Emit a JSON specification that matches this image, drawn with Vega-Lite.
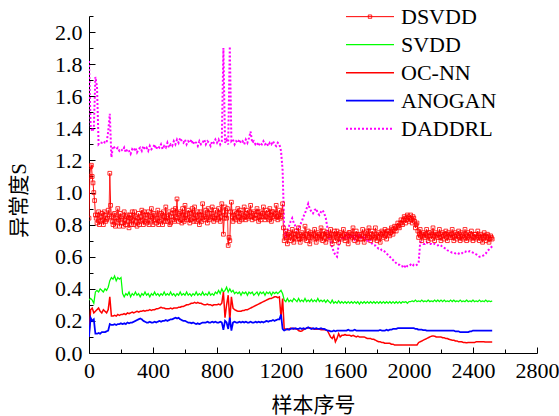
{
  "$schema": "https://vega.github.io/schema/vega-lite/v6.json",
  "width": 448,
  "height": 337,
  "autosize": {"type": "none"},
  "padding": {"left": 89, "top": 16, "right": 22, "bottom": 63},
  "background": "white",
  "config": {
    "view": {"stroke": null},
    "font": "Liberation Serif",
    "axis": {"grid": false, "domainColor": "black", "tickColor": "black", "labelColor": "black", "titleColor": "black", "labelFont": "Liberation Serif", "titleFont": "Liberation Serif, Noto Sans CJK SC", "labelFontSize": 22, "titleFontSize": 21, "titleFontWeight": "normal", "domainWidth": 1, "tickWidth": 1, "labelOverlap": false, "labelFlush": false},
    "legend": {"labelFont": "Liberation Serif"}
  },
  "data": {"values": [
{"x":0,"DSVDD":0.84,"SVDD":0.33,"OC-NN":0.10,"ANOGAN":0.10,"DADDRL":1.82},
{"x":10,"DSVDD":1.16,"SVDD":0.34,"OC-NN":0.27,"ANOGAN":0.22,"DADDRL":1.42},
{"x":20,"DSVDD":1.10,"SVDD":0.33,"OC-NN":0.28,"ANOGAN":0.20,"DADDRL":1.38},
{"x":30,"DSVDD":1.00,"SVDD":0.31,"OC-NN":0.25,"ANOGAN":0.21,"DADDRL":1.40},
{"x":40,"DSVDD":0.86,"SVDD":0.38,"OC-NN":0.26,"ANOGAN":0.12,"DADDRL":1.72},
{"x":50,"DSVDD":0.81,"SVDD":0.39,"OC-NN":0.27,"ANOGAN":0.12,"DADDRL":1.66},
{"x":60,"DSVDD":0.88,"SVDD":0.38,"OC-NN":0.28,"ANOGAN":0.125,"DADDRL":1.30},
{"x":70,"DSVDD":0.82,"SVDD":0.40,"OC-NN":0.26,"ANOGAN":0.12,"DADDRL":1.31},
{"x":80,"DSVDD":0.87,"SVDD":0.39,"OC-NN":0.25,"ANOGAN":0.13,"DADDRL":1.31},
{"x":90,"DSVDD":0.80,"SVDD":0.38,"OC-NN":0.27,"ANOGAN":0.13,"DADDRL":1.32},
{"x":100,"DSVDD":0.86,"SVDD":0.40,"OC-NN":0.26,"ANOGAN":0.13,"DADDRL":1.31},
{"x":110,"DSVDD":0.83,"SVDD":0.39,"OC-NN":0.25,"ANOGAN":0.135,"DADDRL":1.31},
{"x":120,"DSVDD":0.89,"SVDD":0.41,"OC-NN":0.27,"ANOGAN":0.14,"DADDRL":1.38},
{"x":130,"DSVDD":1.12,"SVDD":0.45,"OC-NN":0.35,"ANOGAN":0.18,"DADDRL":1.49},
{"x":140,"DSVDD":0.85,"SVDD":0.47,"OC-NN":0.23,"ANOGAN":0.175,"DADDRL":1.22},
{"x":150,"DSVDD":0.80,"SVDD":0.46,"OC-NN":0.23,"ANOGAN":0.175,"DADDRL":1.29},
{"x":160,"DSVDD":0.87,"SVDD":0.48,"OC-NN":0.235,"ANOGAN":0.18,"DADDRL":1.28},
{"x":170,"DSVDD":0.82,"SVDD":0.45,"OC-NN":0.23,"ANOGAN":0.175,"DADDRL":1.27},
{"x":180,"DSVDD":0.90,"SVDD":0.47,"OC-NN":0.24,"ANOGAN":0.18,"DADDRL":1.28},
{"x":190,"DSVDD":0.79,"SVDD":0.46,"OC-NN":0.235,"ANOGAN":0.18,"DADDRL":1.26},
{"x":200,"DSVDD":0.85,"SVDD":0.47,"OC-NN":0.24,"ANOGAN":0.185,"DADDRL":1.27},
{"x":210,"DSVDD":0.81,"SVDD":0.37,"OC-NN":0.24,"ANOGAN":0.18,"DADDRL":1.26},
{"x":220,"DSVDD":0.88,"SVDD":0.35,"OC-NN":0.245,"ANOGAN":0.185,"DADDRL":1.28},
{"x":230,"DSVDD":0.80,"SVDD":0.37,"OC-NN":0.24,"ANOGAN":0.18,"DADDRL":1.25},
{"x":240,"DSVDD":0.86,"SVDD":0.36,"OC-NN":0.25,"ANOGAN":0.19,"DADDRL":1.27},
{"x":250,"DSVDD":0.78,"SVDD":0.38,"OC-NN":0.245,"ANOGAN":0.185,"DADDRL":1.26},
{"x":260,"DSVDD":0.84,"SVDD":0.35,"OC-NN":0.25,"ANOGAN":0.19,"DADDRL":1.24},
{"x":270,"DSVDD":0.88,"SVDD":0.37,"OC-NN":0.255,"ANOGAN":0.19,"DADDRL":1.27},
{"x":280,"DSVDD":0.80,"SVDD":0.36,"OC-NN":0.25,"ANOGAN":0.195,"DADDRL":1.26},
{"x":290,"DSVDD":0.85,"SVDD":0.38,"OC-NN":0.255,"ANOGAN":0.20,"DADDRL":1.28},
{"x":300,"DSVDD":0.79,"SVDD":0.36,"OC-NN":0.26,"ANOGAN":0.205,"DADDRL":1.25},
{"x":310,"DSVDD":0.87,"SVDD":0.37,"OC-NN":0.255,"ANOGAN":0.21,"DADDRL":1.27},
{"x":320,"DSVDD":0.82,"SVDD":0.35,"OC-NN":0.26,"ANOGAN":0.215,"DADDRL":1.28},
{"x":330,"DSVDD":0.89,"SVDD":0.37,"OC-NN":0.26,"ANOGAN":0.21,"DADDRL":1.26},
{"x":340,"DSVDD":0.80,"SVDD":0.36,"OC-NN":0.265,"ANOGAN":0.20,"DADDRL":1.29},
{"x":350,"DSVDD":0.86,"SVDD":0.38,"OC-NN":0.26,"ANOGAN":0.195,"DADDRL":1.27},
{"x":360,"DSVDD":0.81,"SVDD":0.36,"OC-NN":0.265,"ANOGAN":0.19,"DADDRL":1.28},
{"x":370,"DSVDD":0.88,"SVDD":0.37,"OC-NN":0.265,"ANOGAN":0.19,"DADDRL":1.26},
{"x":380,"DSVDD":0.83,"SVDD":0.35,"OC-NN":0.27,"ANOGAN":0.195,"DADDRL":1.29},
{"x":390,"DSVDD":0.90,"SVDD":0.37,"OC-NN":0.265,"ANOGAN":0.19,"DADDRL":1.27},
{"x":400,"DSVDD":0.80,"SVDD":0.36,"OC-NN":0.27,"ANOGAN":0.19,"DADDRL":1.28},
{"x":410,"DSVDD":0.86,"SVDD":0.38,"OC-NN":0.27,"ANOGAN":0.195,"DADDRL":1.30},
{"x":420,"DSVDD":0.81,"SVDD":0.36,"OC-NN":0.275,"ANOGAN":0.19,"DADDRL":1.27},
{"x":430,"DSVDD":0.89,"SVDD":0.37,"OC-NN":0.275,"ANOGAN":0.195,"DADDRL":1.29},
{"x":440,"DSVDD":0.82,"SVDD":0.355,"OC-NN":0.28,"ANOGAN":0.20,"DADDRL":1.28},
{"x":450,"DSVDD":0.87,"SVDD":0.37,"OC-NN":0.285,"ANOGAN":0.195,"DADDRL":1.30},
{"x":460,"DSVDD":0.80,"SVDD":0.36,"OC-NN":0.28,"ANOGAN":0.20,"DADDRL":1.27},
{"x":470,"DSVDD":0.85,"SVDD":0.38,"OC-NN":0.28,"ANOGAN":0.20,"DADDRL":1.29},
{"x":480,"DSVDD":0.91,"SVDD":0.36,"OC-NN":0.275,"ANOGAN":0.205,"DADDRL":1.28},
{"x":490,"DSVDD":0.82,"SVDD":0.37,"OC-NN":0.275,"ANOGAN":0.20,"DADDRL":1.31},
{"x":500,"DSVDD":0.88,"SVDD":0.36,"OC-NN":0.275,"ANOGAN":0.205,"DADDRL":1.28},
{"x":510,"DSVDD":0.81,"SVDD":0.38,"OC-NN":0.28,"ANOGAN":0.21,"DADDRL":1.30},
{"x":520,"DSVDD":0.87,"SVDD":0.36,"OC-NN":0.275,"ANOGAN":0.21,"DADDRL":1.29},
{"x":530,"DSVDD":0.83,"SVDD":0.37,"OC-NN":0.28,"ANOGAN":0.215,"DADDRL":1.32},
{"x":540,"DSVDD":0.90,"SVDD":0.355,"OC-NN":0.28,"ANOGAN":0.22,"DADDRL":1.30},
{"x":550,"DSVDD":0.96,"SVDD":0.37,"OC-NN":0.28,"ANOGAN":0.215,"DADDRL":1.33},
{"x":560,"DSVDD":0.82,"SVDD":0.36,"OC-NN":0.285,"ANOGAN":0.22,"DADDRL":1.31},
{"x":570,"DSVDD":0.88,"SVDD":0.38,"OC-NN":0.285,"ANOGAN":0.21,"DADDRL":1.34},
{"x":580,"DSVDD":0.81,"SVDD":0.36,"OC-NN":0.29,"ANOGAN":0.205,"DADDRL":1.32},
{"x":590,"DSVDD":0.86,"SVDD":0.37,"OC-NN":0.29,"ANOGAN":0.20,"DADDRL":1.31},
{"x":600,"DSVDD":0.92,"SVDD":0.36,"OC-NN":0.295,"ANOGAN":0.20,"DADDRL":1.33},
{"x":610,"DSVDD":0.83,"SVDD":0.38,"OC-NN":0.30,"ANOGAN":0.195,"DADDRL":1.30},
{"x":620,"DSVDD":0.89,"SVDD":0.36,"OC-NN":0.30,"ANOGAN":0.19,"DADDRL":1.32},
{"x":630,"DSVDD":0.81,"SVDD":0.37,"OC-NN":0.305,"ANOGAN":0.19,"DADDRL":1.31},
{"x":640,"DSVDD":0.87,"SVDD":0.355,"OC-NN":0.31,"ANOGAN":0.185,"DADDRL":1.33},
{"x":650,"DSVDD":0.84,"SVDD":0.37,"OC-NN":0.31,"ANOGAN":0.19,"DADDRL":1.30},
{"x":660,"DSVDD":0.91,"SVDD":0.36,"OC-NN":0.315,"ANOGAN":0.185,"DADDRL":1.32},
{"x":670,"DSVDD":0.82,"SVDD":0.38,"OC-NN":0.31,"ANOGAN":0.18,"DADDRL":1.31},
{"x":680,"DSVDD":0.88,"SVDD":0.36,"OC-NN":0.315,"ANOGAN":0.185,"DADDRL":1.29},
{"x":690,"DSVDD":0.80,"SVDD":0.37,"OC-NN":0.31,"ANOGAN":0.18,"DADDRL":1.32},
{"x":700,"DSVDD":0.86,"SVDD":0.36,"OC-NN":0.31,"ANOGAN":0.185,"DADDRL":1.30},
{"x":710,"DSVDD":0.93,"SVDD":0.38,"OC-NN":0.305,"ANOGAN":0.19,"DADDRL":1.31},
{"x":720,"DSVDD":0.83,"SVDD":0.36,"OC-NN":0.30,"ANOGAN":0.19,"DADDRL":1.33},
{"x":730,"DSVDD":0.89,"SVDD":0.37,"OC-NN":0.30,"ANOGAN":0.19,"DADDRL":1.30},
{"x":740,"DSVDD":0.81,"SVDD":0.36,"OC-NN":0.305,"ANOGAN":0.195,"DADDRL":1.32},
{"x":750,"DSVDD":0.87,"SVDD":0.38,"OC-NN":0.30,"ANOGAN":0.19,"DADDRL":1.31},
{"x":760,"DSVDD":0.84,"SVDD":0.36,"OC-NN":0.30,"ANOGAN":0.19,"DADDRL":1.29},
{"x":770,"DSVDD":0.91,"SVDD":0.37,"OC-NN":0.295,"ANOGAN":0.195,"DADDRL":1.32},
{"x":780,"DSVDD":0.82,"SVDD":0.36,"OC-NN":0.30,"ANOGAN":0.19,"DADDRL":1.31},
{"x":790,"DSVDD":0.89,"SVDD":0.38,"OC-NN":0.30,"ANOGAN":0.195,"DADDRL":1.33},
{"x":800,"DSVDD":0.83,"SVDD":0.37,"OC-NN":0.30,"ANOGAN":0.19,"DADDRL":1.31},
{"x":810,"DSVDD":0.90,"SVDD":0.39,"OC-NN":0.305,"ANOGAN":0.19,"DADDRL":1.33},
{"x":820,"DSVDD":0.82,"SVDD":0.37,"OC-NN":0.30,"ANOGAN":0.195,"DADDRL":1.30},
{"x":830,"DSVDD":0.93,"SVDD":0.40,"OC-NN":0.31,"ANOGAN":0.19,"DADDRL":1.32},
{"x":840,"DSVDD":0.74,"SVDD":0.38,"OC-NN":0.38,"ANOGAN":0.145,"DADDRL":1.90},
{"x":850,"DSVDD":0.91,"SVDD":0.39,"OC-NN":0.22,"ANOGAN":0.20,"DADDRL":1.31},
{"x":860,"DSVDD":0.84,"SVDD":0.41,"OC-NN":0.30,"ANOGAN":0.19,"DADDRL":1.33},
{"x":870,"DSVDD":0.67,"SVDD":0.38,"OC-NN":0.36,"ANOGAN":0.15,"DADDRL":1.30},
{"x":880,"DSVDD":0.70,"SVDD":0.40,"OC-NN":0.20,"ANOGAN":0.22,"DADDRL":1.91},
{"x":890,"DSVDD":0.94,"SVDD":0.38,"OC-NN":0.35,"ANOGAN":0.14,"DADDRL":1.32},
{"x":900,"DSVDD":0.82,"SVDD":0.39,"OC-NN":0.28,"ANOGAN":0.19,"DADDRL":1.33},
{"x":910,"DSVDD":0.88,"SVDD":0.37,"OC-NN":0.27,"ANOGAN":0.195,"DADDRL":1.30},
{"x":920,"DSVDD":0.83,"SVDD":0.38,"OC-NN":0.265,"ANOGAN":0.19,"DADDRL":1.32},
{"x":930,"DSVDD":0.90,"SVDD":0.37,"OC-NN":0.26,"ANOGAN":0.19,"DADDRL":1.31},
{"x":940,"DSVDD":0.82,"SVDD":0.38,"OC-NN":0.26,"ANOGAN":0.195,"DADDRL":1.33},
{"x":950,"DSVDD":0.87,"SVDD":0.36,"OC-NN":0.26,"ANOGAN":0.19,"DADDRL":1.31},
{"x":960,"DSVDD":0.84,"SVDD":0.38,"OC-NN":0.265,"ANOGAN":0.195,"DADDRL":1.32},
{"x":970,"DSVDD":0.91,"SVDD":0.37,"OC-NN":0.265,"ANOGAN":0.19,"DADDRL":1.30},
{"x":980,"DSVDD":0.83,"SVDD":0.38,"OC-NN":0.27,"ANOGAN":0.195,"DADDRL":1.33},
{"x":990,"DSVDD":0.89,"SVDD":0.36,"OC-NN":0.27,"ANOGAN":0.19,"DADDRL":1.31},
{"x":1000,"DSVDD":0.85,"SVDD":0.38,"OC-NN":0.275,"ANOGAN":0.19,"DADDRL":1.34},
{"x":1010,"DSVDD":0.92,"SVDD":0.37,"OC-NN":0.28,"ANOGAN":0.195,"DADDRL":1.38},
{"x":1020,"DSVDD":0.83,"SVDD":0.38,"OC-NN":0.285,"ANOGAN":0.19,"DADDRL":1.31},
{"x":1030,"DSVDD":0.88,"SVDD":0.36,"OC-NN":0.29,"ANOGAN":0.19,"DADDRL":1.32},
{"x":1040,"DSVDD":0.84,"SVDD":0.37,"OC-NN":0.295,"ANOGAN":0.195,"DADDRL":1.30},
{"x":1050,"DSVDD":0.90,"SVDD":0.38,"OC-NN":0.30,"ANOGAN":0.19,"DADDRL":1.31},
{"x":1060,"DSVDD":0.82,"SVDD":0.36,"OC-NN":0.305,"ANOGAN":0.195,"DADDRL":1.29},
{"x":1070,"DSVDD":0.88,"SVDD":0.38,"OC-NN":0.31,"ANOGAN":0.19,"DADDRL":1.31},
{"x":1080,"DSVDD":0.85,"SVDD":0.37,"OC-NN":0.315,"ANOGAN":0.195,"DADDRL":1.30},
{"x":1090,"DSVDD":0.91,"SVDD":0.38,"OC-NN":0.32,"ANOGAN":0.19,"DADDRL":1.32},
{"x":1100,"DSVDD":0.83,"SVDD":0.36,"OC-NN":0.325,"ANOGAN":0.195,"DADDRL":1.30},
{"x":1110,"DSVDD":0.89,"SVDD":0.38,"OC-NN":0.33,"ANOGAN":0.20,"DADDRL":1.31},
{"x":1120,"DSVDD":0.84,"SVDD":0.37,"OC-NN":0.335,"ANOGAN":0.195,"DADDRL":1.29},
{"x":1130,"DSVDD":0.90,"SVDD":0.38,"OC-NN":0.34,"ANOGAN":0.20,"DADDRL":1.31},
{"x":1140,"DSVDD":0.82,"SVDD":0.36,"OC-NN":0.34,"ANOGAN":0.20,"DADDRL":1.30},
{"x":1150,"DSVDD":0.88,"SVDD":0.38,"OC-NN":0.345,"ANOGAN":0.205,"DADDRL":1.32},
{"x":1160,"DSVDD":0.84,"SVDD":0.37,"OC-NN":0.35,"ANOGAN":0.20,"DADDRL":1.30},
{"x":1170,"DSVDD":0.92,"SVDD":0.38,"OC-NN":0.35,"ANOGAN":0.205,"DADDRL":1.29},
{"x":1180,"DSVDD":0.83,"SVDD":0.37,"OC-NN":0.345,"ANOGAN":0.21,"DADDRL":1.31},
{"x":1190,"DSVDD":0.89,"SVDD":0.38,"OC-NN":0.35,"ANOGAN":0.21,"DADDRL":1.30},
{"x":1200,"DSVDD":0.85,"SVDD":0.39,"OC-NN":0.22,"ANOGAN":0.24,"DADDRL":1.26},
{"x":1210,"DSVDD":0.93,"SVDD":0.37,"OC-NN":0.34,"ANOGAN":0.15,"DADDRL":1.14},
{"x":1220,"DSVDD":0.70,"SVDD":0.33,"OC-NN":0.15,"ANOGAN":0.14,"DADDRL":0.78},
{"x":1230,"DSVDD":0.76,"SVDD":0.32,"OC-NN":0.15,"ANOGAN":0.145,"DADDRL":0.72},
{"x":1240,"DSVDD":0.68,"SVDD":0.34,"OC-NN":0.145,"ANOGAN":0.15,"DADDRL":0.76},
{"x":1250,"DSVDD":0.75,"SVDD":0.32,"OC-NN":0.15,"ANOGAN":0.145,"DADDRL":0.79},
{"x":1260,"DSVDD":0.70,"SVDD":0.33,"OC-NN":0.155,"ANOGAN":0.15,"DADDRL":0.82},
{"x":1270,"DSVDD":0.77,"SVDD":0.32,"OC-NN":0.15,"ANOGAN":0.155,"DADDRL":0.84},
{"x":1280,"DSVDD":0.69,"SVDD":0.34,"OC-NN":0.155,"ANOGAN":0.15,"DADDRL":0.81},
{"x":1290,"DSVDD":0.74,"SVDD":0.33,"OC-NN":0.15,"ANOGAN":0.155,"DADDRL":0.79},
{"x":1300,"DSVDD":0.71,"SVDD":0.32,"OC-NN":0.15,"ANOGAN":0.15,"DADDRL":0.77},
{"x":1310,"DSVDD":0.78,"SVDD":0.34,"OC-NN":0.14,"ANOGAN":0.15,"DADDRL":0.78},
{"x":1320,"DSVDD":0.69,"SVDD":0.32,"OC-NN":0.135,"ANOGAN":0.155,"DADDRL":0.80},
{"x":1330,"DSVDD":0.75,"SVDD":0.33,"OC-NN":0.137,"ANOGAN":0.15,"DADDRL":0.82},
{"x":1340,"DSVDD":0.72,"SVDD":0.32,"OC-NN":0.145,"ANOGAN":0.155,"DADDRL":0.85},
{"x":1350,"DSVDD":0.79,"SVDD":0.34,"OC-NN":0.15,"ANOGAN":0.15,"DADDRL":0.87},
{"x":1360,"DSVDD":0.70,"SVDD":0.32,"OC-NN":0.155,"ANOGAN":0.155,"DADDRL":0.90},
{"x":1370,"DSVDD":0.76,"SVDD":0.33,"OC-NN":0.156,"ANOGAN":0.16,"DADDRL":0.93},
{"x":1380,"DSVDD":0.68,"SVDD":0.32,"OC-NN":0.156,"ANOGAN":0.155,"DADDRL":0.90},
{"x":1390,"DSVDD":0.74,"SVDD":0.335,"OC-NN":0.155,"ANOGAN":0.15,"DADDRL":0.88},
{"x":1400,"DSVDD":0.71,"SVDD":0.32,"OC-NN":0.15,"ANOGAN":0.155,"DADDRL":0.87},
{"x":1410,"DSVDD":0.77,"SVDD":0.33,"OC-NN":0.15,"ANOGAN":0.15,"DADDRL":0.89},
{"x":1420,"DSVDD":0.69,"SVDD":0.32,"OC-NN":0.148,"ANOGAN":0.155,"DADDRL":0.90},
{"x":1430,"DSVDD":0.75,"SVDD":0.34,"OC-NN":0.15,"ANOGAN":0.15,"DADDRL":0.87},
{"x":1440,"DSVDD":0.72,"SVDD":0.32,"OC-NN":0.148,"ANOGAN":0.15,"DADDRL":0.86},
{"x":1450,"DSVDD":0.78,"SVDD":0.33,"OC-NN":0.145,"ANOGAN":0.155,"DADDRL":0.88},
{"x":1460,"DSVDD":0.70,"SVDD":0.32,"OC-NN":0.145,"ANOGAN":0.15,"DADDRL":0.89},
{"x":1470,"DSVDD":0.76,"SVDD":0.33,"OC-NN":0.145,"ANOGAN":0.15,"DADDRL":0.87},
{"x":1480,"DSVDD":0.69,"SVDD":0.315,"OC-NN":0.143,"ANOGAN":0.145,"DADDRL":0.84},
{"x":1490,"DSVDD":0.74,"SVDD":0.33,"OC-NN":0.14,"ANOGAN":0.14,"DADDRL":0.78},
{"x":1500,"DSVDD":0.71,"SVDD":0.32,"OC-NN":0.12,"ANOGAN":0.14,"DADDRL":0.72},
{"x":1510,"DSVDD":0.77,"SVDD":0.31,"OC-NN":0.10,"ANOGAN":0.135,"DADDRL":0.69},
{"x":1520,"DSVDD":0.68,"SVDD":0.33,"OC-NN":0.09,"ANOGAN":0.135,"DADDRL":0.66},
{"x":1530,"DSVDD":0.74,"SVDD":0.31,"OC-NN":0.11,"ANOGAN":0.14,"DADDRL":0.63},
{"x":1540,"DSVDD":0.70,"SVDD":0.32,"OC-NN":0.07,"ANOGAN":0.135,"DADDRL":0.61},
{"x":1550,"DSVDD":0.76,"SVDD":0.31,"OC-NN":0.09,"ANOGAN":0.14,"DADDRL":0.60},
{"x":1560,"DSVDD":0.69,"SVDD":0.325,"OC-NN":0.12,"ANOGAN":0.14,"DADDRL":0.67},
{"x":1570,"DSVDD":0.75,"SVDD":0.31,"OC-NN":0.10,"ANOGAN":0.14,"DADDRL":0.70},
{"x":1580,"DSVDD":0.71,"SVDD":0.32,"OC-NN":0.11,"ANOGAN":0.14,"DADDRL":0.71},
{"x":1590,"DSVDD":0.77,"SVDD":0.31,"OC-NN":0.11,"ANOGAN":0.14,"DADDRL":0.73},
{"x":1600,"DSVDD":0.70,"SVDD":0.32,"OC-NN":0.115,"ANOGAN":0.14,"DADDRL":0.72},
{"x":1610,"DSVDD":0.74,"SVDD":0.31,"OC-NN":0.11,"ANOGAN":0.14,"DADDRL":0.74},
{"x":1620,"DSVDD":0.68,"SVDD":0.32,"OC-NN":0.11,"ANOGAN":0.145,"DADDRL":0.71},
{"x":1630,"DSVDD":0.75,"SVDD":0.31,"OC-NN":0.11,"ANOGAN":0.14,"DADDRL":0.73},
{"x":1640,"DSVDD":0.72,"SVDD":0.32,"OC-NN":0.105,"ANOGAN":0.14,"DADDRL":0.72},
{"x":1650,"DSVDD":0.78,"SVDD":0.31,"OC-NN":0.11,"ANOGAN":0.14,"DADDRL":0.74},
{"x":1660,"DSVDD":0.70,"SVDD":0.32,"OC-NN":0.105,"ANOGAN":0.145,"DADDRL":0.71},
{"x":1670,"DSVDD":0.76,"SVDD":0.31,"OC-NN":0.10,"ANOGAN":0.14,"DADDRL":0.73},
{"x":1680,"DSVDD":0.69,"SVDD":0.32,"OC-NN":0.105,"ANOGAN":0.14,"DADDRL":0.72},
{"x":1690,"DSVDD":0.74,"SVDD":0.305,"OC-NN":0.10,"ANOGAN":0.14,"DADDRL":0.74},
{"x":1700,"DSVDD":0.71,"SVDD":0.32,"OC-NN":0.10,"ANOGAN":0.14,"DADDRL":0.72},
{"x":1710,"DSVDD":0.77,"SVDD":0.31,"OC-NN":0.10,"ANOGAN":0.14,"DADDRL":0.73},
{"x":1720,"DSVDD":0.69,"SVDD":0.32,"OC-NN":0.10,"ANOGAN":0.14,"DADDRL":0.71},
{"x":1730,"DSVDD":0.75,"SVDD":0.31,"OC-NN":0.095,"ANOGAN":0.14,"DADDRL":0.72},
{"x":1740,"DSVDD":0.72,"SVDD":0.32,"OC-NN":0.09,"ANOGAN":0.14,"DADDRL":0.70},
{"x":1750,"DSVDD":0.78,"SVDD":0.31,"OC-NN":0.09,"ANOGAN":0.14,"DADDRL":0.71},
{"x":1760,"DSVDD":0.70,"SVDD":0.32,"OC-NN":0.09,"ANOGAN":0.14,"DADDRL":0.69},
{"x":1770,"DSVDD":0.76,"SVDD":0.31,"OC-NN":0.085,"ANOGAN":0.14,"DADDRL":0.68},
{"x":1780,"DSVDD":0.71,"SVDD":0.32,"OC-NN":0.085,"ANOGAN":0.14,"DADDRL":0.67},
{"x":1790,"DSVDD":0.78,"SVDD":0.31,"OC-NN":0.08,"ANOGAN":0.14,"DADDRL":0.67},
{"x":1800,"DSVDD":0.70,"SVDD":0.32,"OC-NN":0.075,"ANOGAN":0.14,"DADDRL":0.66},
{"x":1810,"DSVDD":0.75,"SVDD":0.31,"OC-NN":0.07,"ANOGAN":0.14,"DADDRL":0.65},
{"x":1820,"DSVDD":0.69,"SVDD":0.32,"OC-NN":0.07,"ANOGAN":0.143,"DADDRL":0.65},
{"x":1830,"DSVDD":0.76,"SVDD":0.31,"OC-NN":0.065,"ANOGAN":0.14,"DADDRL":0.64},
{"x":1840,"DSVDD":0.72,"SVDD":0.32,"OC-NN":0.065,"ANOGAN":0.14,"DADDRL":0.64},
{"x":1850,"DSVDD":0.77,"SVDD":0.31,"OC-NN":0.06,"ANOGAN":0.14,"DADDRL":0.63},
{"x":1860,"DSVDD":0.71,"SVDD":0.32,"OC-NN":0.06,"ANOGAN":0.145,"DADDRL":0.62},
{"x":1870,"DSVDD":0.76,"SVDD":0.31,"OC-NN":0.06,"ANOGAN":0.14,"DADDRL":0.61},
{"x":1880,"DSVDD":0.73,"SVDD":0.32,"OC-NN":0.06,"ANOGAN":0.145,"DADDRL":0.60},
{"x":1890,"DSVDD":0.78,"SVDD":0.31,"OC-NN":0.055,"ANOGAN":0.145,"DADDRL":0.59},
{"x":1900,"DSVDD":0.74,"SVDD":0.32,"OC-NN":0.055,"ANOGAN":0.15,"DADDRL":0.58},
{"x":1910,"DSVDD":0.79,"SVDD":0.31,"OC-NN":0.05,"ANOGAN":0.15,"DADDRL":0.57},
{"x":1920,"DSVDD":0.76,"SVDD":0.32,"OC-NN":0.05,"ANOGAN":0.15,"DADDRL":0.56},
{"x":1930,"DSVDD":0.81,"SVDD":0.31,"OC-NN":0.05,"ANOGAN":0.155,"DADDRL":0.55},
{"x":1940,"DSVDD":0.78,"SVDD":0.32,"OC-NN":0.05,"ANOGAN":0.155,"DADDRL":0.55},
{"x":1950,"DSVDD":0.83,"SVDD":0.31,"OC-NN":0.05,"ANOGAN":0.155,"DADDRL":0.54},
{"x":1960,"DSVDD":0.80,"SVDD":0.32,"OC-NN":0.05,"ANOGAN":0.155,"DADDRL":0.54},
{"x":1970,"DSVDD":0.85,"SVDD":0.315,"OC-NN":0.05,"ANOGAN":0.155,"DADDRL":0.53},
{"x":1980,"DSVDD":0.81,"SVDD":0.32,"OC-NN":0.05,"ANOGAN":0.155,"DADDRL":0.55},
{"x":1990,"DSVDD":0.86,"SVDD":0.31,"OC-NN":0.05,"ANOGAN":0.155,"DADDRL":0.54},
{"x":2000,"DSVDD":0.82,"SVDD":0.32,"OC-NN":0.05,"ANOGAN":0.155,"DADDRL":0.54},
{"x":2010,"DSVDD":0.86,"SVDD":0.32,"OC-NN":0.05,"ANOGAN":0.155,"DADDRL":0.55},
{"x":2020,"DSVDD":0.81,"SVDD":0.325,"OC-NN":0.05,"ANOGAN":0.155,"DADDRL":0.54},
{"x":2030,"DSVDD":0.84,"SVDD":0.32,"OC-NN":0.05,"ANOGAN":0.155,"DADDRL":0.55},
{"x":2040,"DSVDD":0.78,"SVDD":0.33,"OC-NN":0.05,"ANOGAN":0.15,"DADDRL":0.545},
{"x":2050,"DSVDD":0.81,"SVDD":0.32,"OC-NN":0.05,"ANOGAN":0.15,"DADDRL":0.55},
{"x":2060,"DSVDD":0.72,"SVDD":0.325,"OC-NN":0.065,"ANOGAN":0.145,"DADDRL":0.56},
{"x":2070,"DSVDD":0.77,"SVDD":0.32,"OC-NN":0.07,"ANOGAN":0.145,"DADDRL":0.69},
{"x":2080,"DSVDD":0.70,"SVDD":0.33,"OC-NN":0.075,"ANOGAN":0.145,"DADDRL":0.69},
{"x":2090,"DSVDD":0.75,"SVDD":0.32,"OC-NN":0.08,"ANOGAN":0.143,"DADDRL":0.68},
{"x":2100,"DSVDD":0.72,"SVDD":0.325,"OC-NN":0.085,"ANOGAN":0.143,"DADDRL":0.68},
{"x":2110,"DSVDD":0.77,"SVDD":0.32,"OC-NN":0.09,"ANOGAN":0.14,"DADDRL":0.69},
{"x":2120,"DSVDD":0.70,"SVDD":0.33,"OC-NN":0.095,"ANOGAN":0.14,"DADDRL":0.68},
{"x":2130,"DSVDD":0.75,"SVDD":0.32,"OC-NN":0.10,"ANOGAN":0.14,"DADDRL":0.68},
{"x":2140,"DSVDD":0.71,"SVDD":0.325,"OC-NN":0.105,"ANOGAN":0.14,"DADDRL":0.68},
{"x":2150,"DSVDD":0.78,"SVDD":0.32,"OC-NN":0.106,"ANOGAN":0.14,"DADDRL":0.675},
{"x":2160,"DSVDD":0.70,"SVDD":0.33,"OC-NN":0.105,"ANOGAN":0.14,"DADDRL":0.68},
{"x":2170,"DSVDD":0.74,"SVDD":0.32,"OC-NN":0.10,"ANOGAN":0.14,"DADDRL":0.675},
{"x":2180,"DSVDD":0.72,"SVDD":0.33,"OC-NN":0.10,"ANOGAN":0.14,"DADDRL":0.67},
{"x":2190,"DSVDD":0.77,"SVDD":0.32,"OC-NN":0.10,"ANOGAN":0.14,"DADDRL":0.675},
{"x":2200,"DSVDD":0.70,"SVDD":0.33,"OC-NN":0.10,"ANOGAN":0.14,"DADDRL":0.67},
{"x":2210,"DSVDD":0.75,"SVDD":0.32,"OC-NN":0.095,"ANOGAN":0.14,"DADDRL":0.66},
{"x":2220,"DSVDD":0.71,"SVDD":0.33,"OC-NN":0.095,"ANOGAN":0.14,"DADDRL":0.655},
{"x":2230,"DSVDD":0.76,"SVDD":0.32,"OC-NN":0.09,"ANOGAN":0.14,"DADDRL":0.65},
{"x":2240,"DSVDD":0.70,"SVDD":0.325,"OC-NN":0.09,"ANOGAN":0.14,"DADDRL":0.64},
{"x":2250,"DSVDD":0.74,"SVDD":0.32,"OC-NN":0.085,"ANOGAN":0.14,"DADDRL":0.635},
{"x":2260,"DSVDD":0.72,"SVDD":0.33,"OC-NN":0.083,"ANOGAN":0.14,"DADDRL":0.63},
{"x":2270,"DSVDD":0.77,"SVDD":0.32,"OC-NN":0.08,"ANOGAN":0.14,"DADDRL":0.625},
{"x":2280,"DSVDD":0.70,"SVDD":0.33,"OC-NN":0.08,"ANOGAN":0.14,"DADDRL":0.625},
{"x":2290,"DSVDD":0.75,"SVDD":0.32,"OC-NN":0.075,"ANOGAN":0.135,"DADDRL":0.62},
{"x":2300,"DSVDD":0.71,"SVDD":0.325,"OC-NN":0.075,"ANOGAN":0.135,"DADDRL":0.625},
{"x":2310,"DSVDD":0.76,"SVDD":0.32,"OC-NN":0.07,"ANOGAN":0.135,"DADDRL":0.62},
{"x":2320,"DSVDD":0.70,"SVDD":0.33,"OC-NN":0.07,"ANOGAN":0.13,"DADDRL":0.615},
{"x":2330,"DSVDD":0.74,"SVDD":0.32,"OC-NN":0.07,"ANOGAN":0.13,"DADDRL":0.62},
{"x":2340,"DSVDD":0.71,"SVDD":0.325,"OC-NN":0.065,"ANOGAN":0.13,"DADDRL":0.63},
{"x":2350,"DSVDD":0.77,"SVDD":0.32,"OC-NN":0.065,"ANOGAN":0.13,"DADDRL":0.63},
{"x":2360,"DSVDD":0.70,"SVDD":0.33,"OC-NN":0.064,"ANOGAN":0.13,"DADDRL":0.635},
{"x":2370,"DSVDD":0.75,"SVDD":0.32,"OC-NN":0.065,"ANOGAN":0.13,"DADDRL":0.63},
{"x":2380,"DSVDD":0.71,"SVDD":0.325,"OC-NN":0.065,"ANOGAN":0.135,"DADDRL":0.635},
{"x":2390,"DSVDD":0.76,"SVDD":0.32,"OC-NN":0.065,"ANOGAN":0.135,"DADDRL":0.63},
{"x":2400,"DSVDD":0.70,"SVDD":0.33,"OC-NN":0.065,"ANOGAN":0.14,"DADDRL":0.625},
{"x":2410,"DSVDD":0.74,"SVDD":0.32,"OC-NN":0.065,"ANOGAN":0.14,"DADDRL":0.62},
{"x":2420,"DSVDD":0.71,"SVDD":0.325,"OC-NN":0.07,"ANOGAN":0.14,"DADDRL":0.615},
{"x":2430,"DSVDD":0.76,"SVDD":0.32,"OC-NN":0.07,"ANOGAN":0.14,"DADDRL":0.61},
{"x":2440,"DSVDD":0.70,"SVDD":0.33,"OC-NN":0.07,"ANOGAN":0.14,"DADDRL":0.60},
{"x":2450,"DSVDD":0.74,"SVDD":0.32,"OC-NN":0.07,"ANOGAN":0.14,"DADDRL":0.60},
{"x":2460,"DSVDD":0.69,"SVDD":0.325,"OC-NN":0.07,"ANOGAN":0.14,"DADDRL":0.605},
{"x":2470,"DSVDD":0.75,"SVDD":0.32,"OC-NN":0.07,"ANOGAN":0.14,"DADDRL":0.61},
{"x":2480,"DSVDD":0.70,"SVDD":0.33,"OC-NN":0.068,"ANOGAN":0.14,"DADDRL":0.62},
{"x":2490,"DSVDD":0.74,"SVDD":0.32,"OC-NN":0.068,"ANOGAN":0.14,"DADDRL":0.635},
{"x":2500,"DSVDD":0.69,"SVDD":0.325,"OC-NN":0.068,"ANOGAN":0.14,"DADDRL":0.645},
{"x":2510,"DSVDD":0.73,"SVDD":0.32,"OC-NN":0.068,"ANOGAN":0.14,"DADDRL":0.655},
{"x":2520,"DSVDD":0.71,"SVDD":0.325,"OC-NN":0.068,"ANOGAN":0.14,"DADDRL":0.665},
{"x":5,"DSVDD":1.10},{"x":15,"DSVDD":1.17},{"x":25,"DSVDD":1.06},{"x":35,"DSVDD":0.95},{"x":45,"DSVDD":0.84},{"x":55,"DSVDD":0.86},{"x":65,"DSVDD":0.80},{"x":75,"DSVDD":0.85},{"x":85,"DSVDD":0.83},{"x":95,"DSVDD":0.88},
{"x":105,"DSVDD":0.82},{"x":115,"DSVDD":0.84},{"x":125,"DSVDD":0.86},{"x":135,"DSVDD":0.92},{"x":145,"DSVDD":0.82},{"x":155,"DSVDD":0.86},{"x":165,"DSVDD":0.79},{"x":175,"DSVDD":0.84},{"x":185,"DSVDD":0.83},{"x":195,"DSVDD":0.87},
{"x":205,"DSVDD":0.84},{"x":215,"DSVDD":0.79},{"x":225,"DSVDD":0.83},{"x":235,"DSVDD":0.85},{"x":245,"DSVDD":0.82},{"x":255,"DSVDD":0.86},{"x":265,"DSVDD":0.80},{"x":275,"DSVDD":0.83},{"x":285,"DSVDD":0.88},{"x":295,"DSVDD":0.82},
{"x":305,"DSVDD":0.84},{"x":315,"DSVDD":0.80},{"x":325,"DSVDD":0.85},{"x":335,"DSVDD":0.83},{"x":345,"DSVDD":0.88},{"x":355,"DSVDD":0.82},{"x":365,"DSVDD":0.86},{"x":375,"DSVDD":0.80},{"x":385,"DSVDD":0.85},{"x":395,"DSVDD":0.84},
{"x":405,"DSVDD":0.87},{"x":415,"DSVDD":0.83},{"x":425,"DSVDD":0.84},{"x":435,"DSVDD":0.80},{"x":445,"DSVDD":0.86},{"x":455,"DSVDD":0.83},{"x":465,"DSVDD":0.88},{"x":475,"DSVDD":0.82},{"x":485,"DSVDD":0.85},{"x":495,"DSVDD":0.84},
{"x":505,"DSVDD":0.80},{"x":515,"DSVDD":0.85},{"x":525,"DSVDD":0.89},{"x":535,"DSVDD":0.82},{"x":545,"DSVDD":0.85},{"x":555,"DSVDD":0.84},{"x":565,"DSVDD":0.87},{"x":575,"DSVDD":0.83},{"x":585,"DSVDD":0.90},{"x":595,"DSVDD":0.82},
{"x":605,"DSVDD":0.86},{"x":615,"DSVDD":0.84},{"x":625,"DSVDD":0.87},{"x":635,"DSVDD":0.83},{"x":645,"DSVDD":0.90},{"x":655,"DSVDD":0.82},{"x":665,"DSVDD":0.86},{"x":675,"DSVDD":0.85},{"x":685,"DSVDD":0.83},{"x":695,"DSVDD":0.88},
{"x":705,"DSVDD":0.82},{"x":715,"DSVDD":0.86},{"x":725,"DSVDD":0.85},{"x":735,"DSVDD":0.84},{"x":745,"DSVDD":0.90},{"x":755,"DSVDD":0.83},{"x":765,"DSVDD":0.87},{"x":775,"DSVDD":0.85},{"x":785,"DSVDD":0.84},{"x":795,"DSVDD":0.86},
{"x":805,"DSVDD":0.84},{"x":815,"DSVDD":0.87},{"x":825,"DSVDD":0.85},{"x":835,"DSVDD":0.88},{"x":845,"DSVDD":0.84},{"x":855,"DSVDD":0.86},{"x":865,"DSVDD":0.90},{"x":875,"DSVDD":0.72},{"x":885,"DSVDD":0.88},{"x":895,"DSVDD":0.85},
{"x":905,"DSVDD":0.86},{"x":915,"DSVDD":0.84},{"x":925,"DSVDD":0.87},{"x":935,"DSVDD":0.85},{"x":945,"DSVDD":0.89},{"x":955,"DSVDD":0.83},{"x":965,"DSVDD":0.86},{"x":975,"DSVDD":0.85},{"x":985,"DSVDD":0.87},{"x":995,"DSVDD":0.84},
{"x":1005,"DSVDD":0.88},{"x":1015,"DSVDD":0.85},{"x":1025,"DSVDD":0.87},{"x":1035,"DSVDD":0.84},{"x":1045,"DSVDD":0.86},{"x":1055,"DSVDD":0.88},{"x":1065,"DSVDD":0.85},{"x":1075,"DSVDD":0.83},{"x":1085,"DSVDD":0.87},{"x":1095,"DSVDD":0.86},
{"x":1105,"DSVDD":0.85},{"x":1115,"DSVDD":0.87},{"x":1125,"DSVDD":0.83},{"x":1135,"DSVDD":0.86},{"x":1145,"DSVDD":0.88},{"x":1155,"DSVDD":0.85},{"x":1165,"DSVDD":0.87},{"x":1175,"DSVDD":0.85},{"x":1185,"DSVDD":0.86},{"x":1195,"DSVDD":0.84},
{"x":1205,"DSVDD":0.88},{"x":1215,"DSVDD":0.78},{"x":1225,"DSVDD":0.73},{"x":1235,"DSVDD":0.72},{"x":1245,"DSVDD":0.74},{"x":1255,"DSVDD":0.72},{"x":1265,"DSVDD":0.73},{"x":1275,"DSVDD":0.74},{"x":1285,"DSVDD":0.72},{"x":1295,"DSVDD":0.76},
{"x":1305,"DSVDD":0.73},{"x":1315,"DSVDD":0.71},{"x":1325,"DSVDD":0.74},{"x":1335,"DSVDD":0.73},{"x":1345,"DSVDD":0.71},{"x":1355,"DSVDD":0.74},{"x":1365,"DSVDD":0.73},{"x":1375,"DSVDD":0.72},{"x":1385,"DSVDD":0.75},{"x":1395,"DSVDD":0.72},
{"x":1405,"DSVDD":0.74},{"x":1415,"DSVDD":0.73},{"x":1425,"DSVDD":0.72},{"x":1435,"DSVDD":0.74},{"x":1445,"DSVDD":0.71},{"x":1455,"DSVDD":0.73},{"x":1465,"DSVDD":0.74},{"x":1475,"DSVDD":0.72},{"x":1485,"DSVDD":0.75},{"x":1495,"DSVDD":0.73},
{"x":1505,"DSVDD":0.72},{"x":1515,"DSVDD":0.74},{"x":1525,"DSVDD":0.73},{"x":1535,"DSVDD":0.76},{"x":1545,"DSVDD":0.72},{"x":1555,"DSVDD":0.73},{"x":1565,"DSVDD":0.74},{"x":1575,"DSVDD":0.72},{"x":1585,"DSVDD":0.73},{"x":1595,"DSVDD":0.74},
{"x":1605,"DSVDD":0.72},{"x":1615,"DSVDD":0.73},{"x":1625,"DSVDD":0.75},{"x":1635,"DSVDD":0.71},{"x":1645,"DSVDD":0.74},{"x":1655,"DSVDD":0.73},{"x":1665,"DSVDD":0.72},{"x":1675,"DSVDD":0.74},{"x":1685,"DSVDD":0.73},{"x":1695,"DSVDD":0.71},
{"x":1705,"DSVDD":0.74},{"x":1715,"DSVDD":0.73},{"x":1725,"DSVDD":0.72},{"x":1735,"DSVDD":0.76},{"x":1745,"DSVDD":0.73},{"x":1755,"DSVDD":0.72},{"x":1765,"DSVDD":0.74},{"x":1775,"DSVDD":0.73},{"x":1785,"DSVDD":0.72},{"x":1795,"DSVDD":0.74},
{"x":1805,"DSVDD":0.73},{"x":1815,"DSVDD":0.72},{"x":1825,"DSVDD":0.74},{"x":1835,"DSVDD":0.75},{"x":1845,"DSVDD":0.73},{"x":1855,"DSVDD":0.74},{"x":1865,"DSVDD":0.76},{"x":1875,"DSVDD":0.74},{"x":1885,"DSVDD":0.75},{"x":1895,"DSVDD":0.77},
{"x":1905,"DSVDD":0.76},{"x":1915,"DSVDD":0.78},{"x":1925,"DSVDD":0.79},{"x":1935,"DSVDD":0.79},{"x":1945,"DSVDD":0.81},{"x":1955,"DSVDD":0.81},{"x":1965,"DSVDD":0.83},{"x":1975,"DSVDD":0.84},{"x":1985,"DSVDD":0.83},{"x":1995,"DSVDD":0.85},
{"x":2005,"DSVDD":0.84},{"x":2015,"DSVDD":0.83},{"x":2025,"DSVDD":0.85},{"x":2035,"DSVDD":0.82},{"x":2045,"DSVDD":0.80},{"x":2055,"DSVDD":0.76},{"x":2065,"DSVDD":0.74},{"x":2075,"DSVDD":0.73},{"x":2085,"DSVDD":0.74},{"x":2095,"DSVDD":0.73},
{"x":2105,"DSVDD":0.74},{"x":2115,"DSVDD":0.73},{"x":2125,"DSVDD":0.75},{"x":2135,"DSVDD":0.73},{"x":2145,"DSVDD":0.74},{"x":2155,"DSVDD":0.73},{"x":2165,"DSVDD":0.75},{"x":2175,"DSVDD":0.73},{"x":2185,"DSVDD":0.74},{"x":2195,"DSVDD":0.72},
{"x":2205,"DSVDD":0.74},{"x":2215,"DSVDD":0.73},{"x":2225,"DSVDD":0.74},{"x":2235,"DSVDD":0.72},{"x":2245,"DSVDD":0.75},{"x":2255,"DSVDD":0.73},{"x":2265,"DSVDD":0.74},{"x":2275,"DSVDD":0.72},{"x":2285,"DSVDD":0.73},{"x":2295,"DSVDD":0.74},
{"x":2305,"DSVDD":0.73},{"x":2315,"DSVDD":0.72},{"x":2325,"DSVDD":0.75},{"x":2335,"DSVDD":0.73},{"x":2345,"DSVDD":0.72},{"x":2355,"DSVDD":0.74},{"x":2365,"DSVDD":0.73},{"x":2375,"DSVDD":0.72},{"x":2385,"DSVDD":0.74},{"x":2395,"DSVDD":0.73},
{"x":2405,"DSVDD":0.72},{"x":2415,"DSVDD":0.74},{"x":2425,"DSVDD":0.72},{"x":2435,"DSVDD":0.73},{"x":2445,"DSVDD":0.72},{"x":2455,"DSVDD":0.73},{"x":2465,"DSVDD":0.72},{"x":2475,"DSVDD":0.73},{"x":2485,"DSVDD":0.72},{"x":2495,"DSVDD":0.73},
{"x":2505,"DSVDD":0.71},{"x":2515,"DSVDD":0.72}
  ]},
  "transform": [
    {"fold": ["DSVDD", "SVDD", "OC-NN", "ANOGAN", "DADDRL"], "as": ["series", "value"]},
    {"filter": "isValid(datum.value)"}
  ],
  "resolve": {"axis": {"x": "independent", "y": "independent"}},
  "layer": [
    {
      "mark": {"type": "line", "clip": true},
      "encoding": {
        "x": {"field": "x", "type": "quantitative", "scale": {"domain": [0, 2800], "nice": false, "zero": false},
          "axis": {"orient": "bottom", "values": [0, 400, 800, 1200, 1600, 2000, 2400, 2800], "format": "d", "tickSize": -6, "labelPadding": 13, "labelFlush": false, "labelFont": "Liberation Serif", "title": "样本序号", "titleX": 224, "titleY": 52, "titleBaseline": "middle", "titleAnchor": "middle"}},
        "y": {"field": "value", "type": "quantitative", "scale": {"domain": [0, 2.1], "nice": false, "zero": false},
          "axis": {"orient": "left", "values": [0, 0.2, 0.4, 0.6, 0.8, 1.0, 1.2, 1.4, 1.6, 1.8, 2.0], "format": ".1f", "tickSize": -6, "labelPadding": 13, "labelFont": "Liberation Serif", "title": "异常度S", "titleX": -70, "titleY": 184, "titleBaseline": "middle", "titleAngle": -90, "titleAlign": "center"}},
        "color": {"field": "series", "type": "nominal",
          "scale": {"domain": ["DSVDD", "SVDD", "OC-NN", "ANOGAN", "DADDRL"], "range": ["#ff0000", "#00ff00", "#ff0000", "#0000ff", "#ff00ff"]},
          "legend": {"orient": "none", "legendX": 256, "legendY": -13, "title": null, "padding": 0, "labelFont": "Liberation Serif", "labelFontSize": 22, "labelColor": "black", "symbolSize": 2304, "symbolStrokeWidth": 1.5, "clipHeight": 27.3, "rowPadding": 0, "labelOffset": 6,
            "encode": {"symbols": {"update": {"shape": {"signal": "datum.value === 'DSVDD' ? 'M-1,0H1M-0.07,-0.07H0.07V0.07H-0.07Z' : 'stroke'"}}}}}},
        "strokeDash": {"field": "series", "type": "nominal",
          "scale": {"domain": ["DSVDD", "SVDD", "OC-NN", "ANOGAN", "DADDRL"], "range": [[1, 0], [1, 0], [1, 0], [1, 0], [2, 2]]},
          "legend": {"orient": "none", "legendX": 256, "legendY": -13, "title": null, "padding": 0, "labelFont": "Liberation Serif", "labelFontSize": 22, "labelColor": "black", "symbolSize": 2304, "symbolStrokeWidth": 1.5, "clipHeight": 27.3, "rowPadding": 0, "labelOffset": 6,
            "encode": {"symbols": {"update": {"shape": {"signal": "datum.value === 'DSVDD' ? 'M-1,0H1M-0.07,-0.07H0.07V0.07H-0.07Z' : 'stroke'"}}}}}},
        "strokeWidth": {"field": "series", "type": "nominal", "legend": null,
          "scale": {"domain": ["DSVDD", "SVDD", "OC-NN", "ANOGAN", "DADDRL"], "range": [1, 2, 1.5, 1.6, 1.3]}}
      }
    },
    {
      "transform": [{"filter": "datum.series === 'DSVDD'"}],
      "mark": {"type": "point", "shape": "square", "filled": false, "size": 14, "strokeWidth": 0.8, "color": "#ff0000", "opacity": 1, "clip": true},
      "encoding": {
        "x": {"field": "x", "type": "quantitative",
          "axis": {"orient": "bottom", "values": [200, 600, 1000, 1400, 1800, 2200, 2600], "tickSize": -4, "labels": false, "domain": false, "title": null}},
        "y": {"field": "value", "type": "quantitative",
          "axis": {"orient": "left", "values": [0.1, 0.3, 0.5, 0.7, 0.9, 1.1, 1.3, 1.5, 1.7, 1.9, 2.1], "tickSize": -4, "labels": false, "domain": false, "title": null}}
      }
    }
  ]
}
